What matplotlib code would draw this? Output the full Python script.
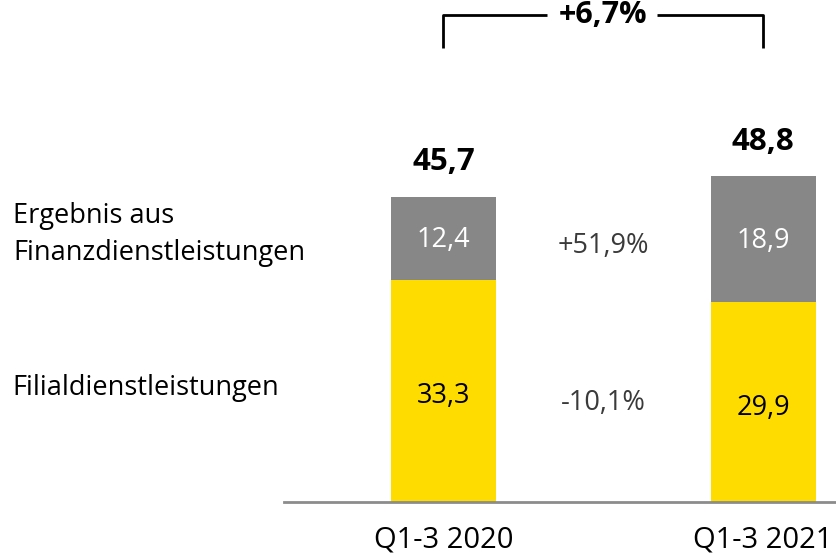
import matplotlib
matplotlib.use("Agg")
import matplotlib.pyplot as plt

plt.rcParams["font.family"] = ["Open Sans", "DejaVu Sans"]

# Daten (Mrd./Mio. EUR, wie im Original)
periods = ["Q1-3 2020", "Q1-3 2021"]
filial = [33.3, 29.9]
finanz = [12.4, 18.9]
totals = [45.7, 48.8]
chg_finanz = "+51,9%"
chg_filial = "-10,1%"
chg_total = "+6,7%"
seg_names = ["Ergebnis aus\nFinanzdienstleistungen", "Filialdienstleistungen"]

YELLOW = "#FFDC00"
GREY = "#878787"
AXIS = "#8c8c8c"


def de(v):
    return f"{v:.1f}".replace(".", ",")


W, H = 837, 557
fig = plt.figure(figsize=(W / 100, H / 100), dpi=100)
# Achse: Basislinie bei y=502px, links bei x=284px
ax = fig.add_axes([284 / W, 55 / H, (W - 284) / W, 502 / H])
px_per_unit = 305 / 45.7
ax.set_ylim(0, 502 / px_per_unit)
ax.set_xlim((284 - 443.5) / 319.5, (837 - 443.5) / 319.5)

x = [0, 1]
bw = 105 / 319.5
ax.bar(x, filial, width=bw, color=YELLOW, linewidth=0)
ax.bar(x, finanz, width=bw, bottom=filial, color=GREY, linewidth=0)

for xi, f, g, t in zip(x, filial, finanz, totals):
    ax.text(xi, f / 2 - 0.8, de(f), ha="center", va="center", fontsize=19.5, color="black")
    ax.text(xi, f + g / 2 - 0.3, de(g), ha="center", va="center", fontsize=19.5, color="white")
    ax.annotate(de(t), (xi, t), xytext=(0, 25), textcoords="offset points",
                ha="center", va="center", fontsize=22.5, fontweight="bold")

# Veränderungen in der Mitte
mid_g = sum(f + g / 2 for f, g in zip(filial, finanz)) / 2
mid_f = sum(f / 2 for f in filial) / 2
ax.text(0.5, mid_g - 1.0, chg_finanz, ha="center", va="center", fontsize=19.5, color="#3a3a3a")
ax.text(0.5, mid_f - 1.0, chg_filial, ha="center", va="center", fontsize=19.5, color="#3a3a3a")

# Klammer oben
yb_top, yb_bot = 73.0, 68.0
kw = dict(color="black", lw=2, clip_on=False, solid_capstyle="butt")
ax.plot([0, 0, 0.324], [yb_bot, yb_top, yb_top], **kw)
ax.plot([0.668, 1, 1], [yb_top, yb_top, yb_bot], **kw)
ax.text(0.5, yb_top, chg_total, ha="center", va="center", fontsize=22, fontweight="bold")

# Segmentbeschriftungen links
fig.text(13 / W, 1 - 234.5 / H, seg_names[0], ha="left", va="center", fontsize=19.5,
         linespacing=1.4)
fig.text(12 / W, 1 - 388 / H, seg_names[1], ha="left", va="center", fontsize=19.5)

ax.set_xticks(x, periods, fontsize=21)
ax.tick_params(axis="x", length=0, pad=17)
ax.set_yticks([])
for s in ("left", "right", "top"):
    ax.spines[s].set_visible(False)
ax.spines["bottom"].set_color(AXIS)
ax.spines["bottom"].set_linewidth(2)

fig.savefig("out.png", dpi=100)
